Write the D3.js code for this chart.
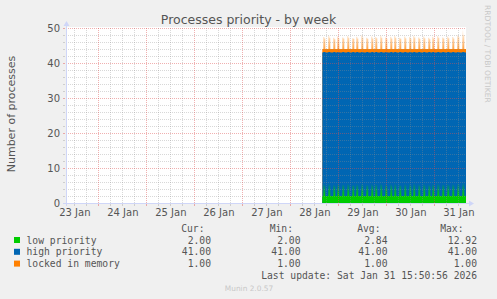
<!DOCTYPE html>
<html>
<head>
<meta charset="utf-8">
<script src="https://cdn.jsdelivr.net/npm/d3@7"></script>
<style>
  body { margin: 0; background: #f0f0f0; }
  svg { display: block; font-family: "DejaVu Sans", sans-serif; }
  .mono { font-family: "DejaVu Sans Mono", monospace; font-size: 9.7px; fill: #555; }
</style>
</head>
<body>
<svg width="497" height="299"></svg>
<script>
// legend rows
var names = ["low priority", "high priority", "locked in memory"];
var colors = ["#00cc00", "#0066b3", "#ff8000"];
var curVals = ["2.00", "41.00", "1.00"];
var minVals = ["2.00", "41.00", "1.00"];
var avgVals = ["2.84", "41.00", "1.00"];
var maxVals = ["12.92", "41.00", "1.00"];

var yTicks = [0, 10, 20, 30, 40, 50];
var dayLabels = ["2026-01-23", "2026-01-24", "2026-01-25", "2026-01-26", "2026-01-27",
  "2026-01-28", "2026-01-29", "2026-01-30", "2026-01-31"];

// 30 minute samples starting Jan 28 16:00
var firstSample = new Date(2026, 0, 28, 16, 0);
var lowPriority = [
  2, 5.4, 5.0, 2, 2, 2, 5.8, 5.2, 2, 2, 2, 5.2,
  4.8, 2, 2, 5.6, 5.1, 2, 2, 2, 5.3, 5.0, 2, 2,
  2, 5.7, 5.2, 2, 2, 2, 5.1, 4.9, 2, 2, 5.5, 5.0,
  2, 2, 2, 5.9, 5.3, 2, 2, 2, 5.2, 4.9, 2, 2,
  2, 5.6, 5.0, 2, 2, 5.4, 5.1, 2, 2, 2, 5.8, 5.2,
  2, 2, 2, 5.3, 4.9, 2, 2, 2, 5.5, 5.0, 2, 2,
  5.7, 5.2, 2, 2, 2, 5.2, 4.9, 2, 2, 2, 5.6, 5.1,
  2, 2, 2, 5.4, 5.0, 2, 2, 5.8, 5.3, 2, 2, 2,
  5.3, 4.9, 2, 2, 2, 5.6, 5.1, 2, 2, 2, 5.2, 4.8,
  2, 2, 5.5, 5.0, 2, 2, 2, 5.7, 5.2, 2, 2, 2,
  5.3, 5.0, 2, 2, 2, 5.6, 5.1, 2, 2, 2, 5.4, 5.0,
  2, 2, 2, 5.9, 5.4, 2, 2, 2, 8.5, 6.0, 2, 2
];
// both of these stay flat over the whole week
var highPriority = lowPriority.map(function() { return 41; });
var lockedInMemory = lowPriority.map(function() { return 1; });

var svg = d3.select("svg");
var plotLeft = 66, plotTop = 28, width = 400, height = 175;

var x = d3.scaleTime()
  .domain([new Date(2026, 0, 23, 7, 50, 56), new Date(2026, 0, 31, 15, 50, 56)])
  .range([plotLeft, plotLeft + width]);
var y = d3.scaleLinear().domain([0, 50]).range([plotTop + height, plotTop]);

var rows = lowPriority.map(function(v, i) {
  return {
    t: d3.timeMinute.offset(firstSample, 30 * i),
    low: v, high: highPriority[i], locked: lockedInMemory[i]
  };
});
var last = rows[rows.length - 1];
rows.push({ t: d3.timeMinute.offset(last.t, 30), low: last.low, high: last.high, locked: last.locked });

var stacked = d3.stack().keys(["low", "high", "locked"])(rows);

// canvas
svg.append("rect").attr("x", plotLeft).attr("y", plotTop - 1).attr("width", width).attr("height", height + 1)
  .attr("fill", "#fff");

var defs = svg.append("defs");
defs.append("clipPath").attr("id", "clip").append("rect")
  .attr("x", plotLeft).attr("y", 0).attr("width", width).attr("height", plotTop + height);

// base level of each band, above which short spikes fade out
var baseTop = [2, 43, 44];
var fadeTop = [5.8, 43, 49.5];
var fadeStart = [1, 0, 0.7];
colors.forEach(function(c, i) {
  var gr = defs.append("linearGradient").attr("id", "fade" + i)
    .attr("gradientUnits", "userSpaceOnUse")
    .attr("x1", 0).attr("x2", 0).attr("y1", y(0)).attr("y2", y(50));
  gr.append("stop").attr("offset", baseTop[i] / 50).attr("stop-color", c).attr("stop-opacity", 1);
  gr.append("stop").attr("offset", baseTop[i] / 50 + 0.0001).attr("stop-color", c).attr("stop-opacity", fadeStart[i]);
  gr.append("stop").attr("offset", Math.min(fadeTop[i] / 50 + 0.0002, 1)).attr("stop-color", c).attr("stop-opacity", 0);
});

var area = d3.area()
  .curve(d3.curveStepAfter)
  .x(function(d) { return x(d.data.t); })
  .y0(y(0))
  .y1(function(d) { return y(d[1]); });

// draw cumulative areas top-down so each band sits on the one below
svg.append("g").attr("clip-path", "url(#clip)")
  .selectAll("path")
  .data(stacked.slice().reverse())
  .enter().append("path")
  .attr("d", area)
  .attr("fill", function(d) { return "url(#fade" + d.index + ")"; });

// grid over the data
var days = x.ticks(d3.timeDay);
var sixHours = x.ticks(d3.timeHour.every(6)).filter(function(d) { return d.getHours() !== 0; });
var minorY = d3.range(0, 51, 2).filter(function(v) { return v % 10 !== 0; });
var minorCol = "rgba(143,143,143,0.35)", majorCol = "rgba(222,79,79,0.45)";

var grid = svg.append("g").attr("fill", "none").attr("stroke-dasharray", "1,1");
grid.selectAll(".vmin").data(sixHours).enter().append("line")
  .attr("x1", function(d) { return Math.round(x(d)) + 0.5; })
  .attr("x2", function(d) { return Math.round(x(d)) + 0.5; })
  .attr("y1", plotTop).attr("y2", plotTop + height)
  .attr("stroke", minorCol);
grid.selectAll(".hmin").data(minorY).enter().append("line")
  .attr("x1", plotLeft).attr("x2", plotLeft + width)
  .attr("y1", function(d) { return Math.round(y(d)) + 0.5; })
  .attr("y2", function(d) { return Math.round(y(d)) + 0.5; })
  .attr("stroke", minorCol);
grid.selectAll(".vmaj").data(days).enter().append("line")
  .attr("x1", function(d) { return Math.round(x(d)) + 0.5; })
  .attr("x2", function(d) { return Math.round(x(d)) + 0.5; })
  .attr("y1", plotTop).attr("y2", plotTop + height)
  .attr("stroke", majorCol);
grid.selectAll(".hmaj").data(yTicks.slice(1)).enter().append("line")
  .attr("x1", plotLeft).attr("x2", plotLeft + width)
  .attr("y1", function(d) { return Math.round(y(d)) + 0.5; })
  .attr("y2", function(d) { return Math.round(y(d)) + 0.5; })
  .attr("stroke", majorCol);

// small tick marks outside the plot
var ticks = svg.append("g");
ticks.selectAll(".tx").data(sixHours.concat(days)).enter().append("line")
  .attr("x1", function(d) { return Math.round(x(d)) + 0.5; })
  .attr("x2", function(d) { return Math.round(x(d)) + 0.5; })
  .attr("y1", plotTop + height + 1).attr("y2", plotTop + height + 3)
  .attr("stroke", function(d) { return d.getHours() === 0 ? majorCol : minorCol; });
ticks.selectAll(".ty").data(d3.range(0, 51, 2)).enter().append("line")
  .attr("x1", plotLeft - 3).attr("x2", plotLeft - 1)
  .attr("y1", function(d) { return Math.round(y(d)) + 0.5; })
  .attr("y2", function(d) { return Math.round(y(d)) + 0.5; })
  .attr("stroke", function(d) { return d % 10 === 0 ? majorCol : minorCol; });

// axes lines + arrows
var axisCol = "#cfd6f8";
svg.append("line").attr("x1", plotLeft - 3).attr("x2", plotLeft + width + 4)
  .attr("y1", plotTop + height + 0.5).attr("y2", plotTop + height + 0.5).attr("stroke", axisCol);
svg.append("line").attr("x1", plotLeft + 0.5).attr("x2", plotLeft + 0.5)
  .attr("y1", plotTop + height + 3).attr("y2", plotTop - 5).attr("stroke", axisCol);
svg.append("path").attr("fill", axisCol)
  .attr("d", "M" + (plotLeft + width + 3) + "," + (plotTop + height - 2.5) + "L" + (plotLeft + width + 8) + "," + (plotTop + height + 0.5) +
    "L" + (plotLeft + width + 3) + "," + (plotTop + height + 3.5) + "Z");
svg.append("path").attr("fill", axisCol)
  .attr("d", "M" + (plotLeft - 2.5) + "," + (plotTop - 2) + "L" + (plotLeft + 0.5) + "," + (plotTop - 7) + "L" + (plotLeft + 3.5) + "," + (plotTop - 2) + "Z");

// tick labels
var parseDay = d3.timeParse("%Y-%m-%d");
var xAxis = svg.append("g")
  .attr("transform", "translate(0," + (plotTop + height) + ")")
  .call(d3.axisBottom(x)
    .tickValues(dayLabels.map(function(s) { return d3.timeHour.offset(parseDay(s), 12); }))
    .tickFormat(d3.timeFormat("%d %b"))
    .tickSize(0).tickPadding(6));
var yAxis = svg.append("g")
  .attr("transform", "translate(" + plotLeft + ",0)")
  .call(d3.axisLeft(y).tickValues(yTicks).tickSize(0).tickPadding(6));
[xAxis, yAxis].forEach(function(a) {
  a.select(".domain").remove();
  a.selectAll("text").attr("fill", "#555").style("font-size", "10px")
    .style("font-family", "'DejaVu Sans', sans-serif");
});

// titles
svg.append("text").attr("x", 248.5).attr("y", 24).attr("text-anchor", "middle")
  .attr("fill", "#555").style("font-size", "12.5px").text("Processes priority - by week");
svg.append("text").attr("transform", "translate(15,114) rotate(-90)").attr("text-anchor", "middle")
  .attr("fill", "#555").style("font-size", "11px").text("Number of processes");
svg.append("text").attr("transform", "translate(484.5,5) rotate(90)")
  .attr("fill", "#c8c8c8").style("font-size", "7.6px").text("RRDTOOL / TOBI OETIKER");

// legend
var heads = [["Cur:", 204.5], ["Min:", 293], ["Avg:", 380.5], ["Max:", 463.5]];
var cols = [[curVals, 211], [minVals, 300.5], [avgVals, 387.5], [maxVals, 477]];
var legend = svg.append("g");
heads.forEach(function(h) {
  legend.append("text").attr("class", "mono").attr("x", h[1]).attr("y", 231.5)
    .attr("text-anchor", "end").text(h[0]);
});
names.forEach(function(n, i) {
  var by = 243.5 + i * 11.8;
  legend.append("rect").attr("x", 14).attr("y", by - 6.5).attr("width", 6).attr("height", 6)
    .attr("fill", colors[i]);
  legend.append("text").attr("class", "mono").attr("x", 26.5).attr("y", by).text(n);
  cols.forEach(function(c) {
    legend.append("text").attr("class", "mono").attr("x", c[1]).attr("y", by)
      .attr("text-anchor", "end").text(c[0][i]);
  });
});
legend.append("text").attr("class", "mono").attr("x", 477).attr("y", 279)
  .attr("text-anchor", "end").text("Last update: Sat Jan 31 15:50:56 2026");

svg.append("text").attr("x", 249).attr("y", 290.5).attr("text-anchor", "middle")
  .attr("fill", "#c8c8c8").style("font-size", "7.4px").text("Munin 2.0.57");
</script>
</body>
</html>
